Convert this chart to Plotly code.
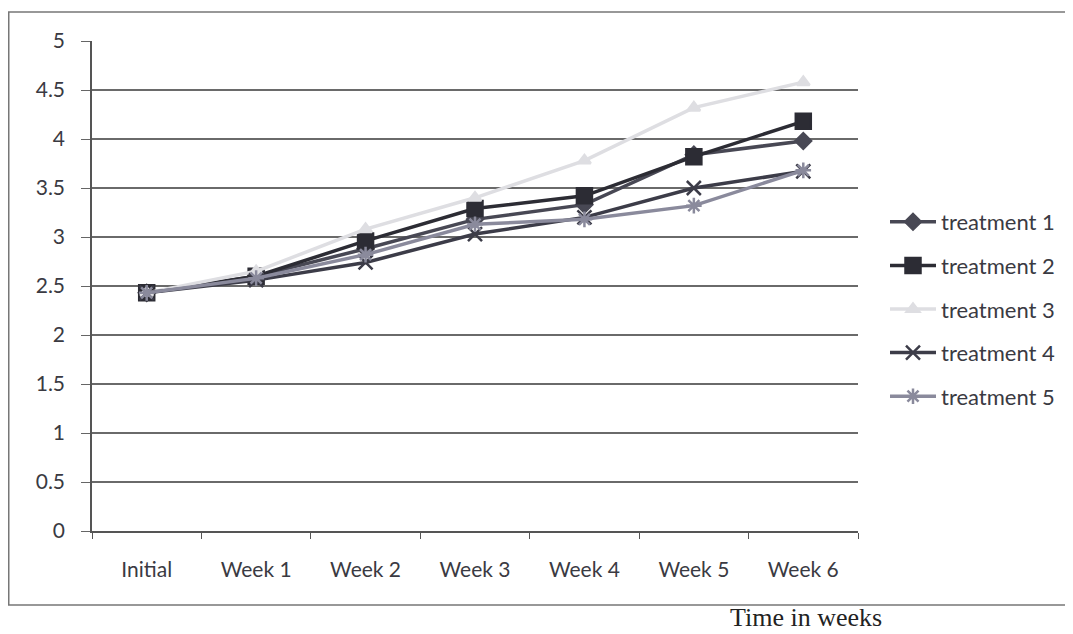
import plotly.graph_objects as go

categories = ["Initial", "Week 1", "Week 2", "Week 3", "Week 4", "Week 5", "Week 6"]
treatment_1 = [2.43, 2.60, 2.88, 3.18, 3.33, 3.84, 3.98]
treatment_2 = [2.43, 2.60, 2.96, 3.29, 3.42, 3.82, 4.18]
treatment_3 = [2.43, 2.65, 3.08, 3.40, 3.78, 4.32, 4.58]
treatment_4 = [2.43, 2.56, 2.74, 3.03, 3.20, 3.50, 3.67]
treatment_5 = [2.43, 2.58, 2.82, 3.13, 3.18, 3.32, 3.68]
series_names = ["treatment 1", "treatment 2", "treatment 3", "treatment 4", "treatment 5"]
y_ticks = [0, 0.5, 1, 1.5, 2, 2.5, 3, 3.5, 4, 4.5, 5]
y_tick_labels = ["0", "0.5", "1", "1.5", "2", "2.5", "3", "3.5", "4", "4.5", "5"]

series = [treatment_1, treatment_2, treatment_3, treatment_4, treatment_5]
styles = [
    dict(color="#484854", symbol="diamond", size=12),
    dict(color="#2c2c34", symbol="square", size=15),
    dict(color="#dedee2", symbol="triangle-up", size=11),
    dict(color="#3c3c48", symbol="x-thin-open", size=14),
    dict(color="#8a8a9c", symbol="asterisk-open", size=13),
]

# The page adds an 8px body margin, so figure coordinates are page minus 8.
W, H = 1065, 626
L, R, T, B = 84, 215, 33, 103
PW, PH = W - L - R, H - T - B

fig = go.Figure()
for i, (name, vals, st) in enumerate(zip(series_names, series, styles)):
    fig.add_trace(go.Scatter(
        x=categories, y=vals, name=name, mode="lines+markers",
        legendgroup=f"g{i}",
        line=dict(color=st["color"], width=3.5),
        marker=dict(symbol=st["symbol"], size=st["size"], color=st["color"],
                    line=dict(color=st["color"], width=2.5)),
    ))

font_family = "Lato, 'Open Sans', sans-serif"
fig.update_layout(
    width=W, height=H,
    margin=dict(l=L, r=R, t=T, b=B, autoexpand=False),
    paper_bgcolor="white", plot_bgcolor="white",
    font=dict(family=font_family, size=21, color="#3a3a42"),
    showlegend=True,
    legend=dict(x=(877 - L) / PW, xanchor="left", y=(523 - 301) / PH, yanchor="middle",
                font=dict(size=22, color="#3a3a42"), traceorder="grouped",
                tracegroupgap=12, itemwidth=46, bgcolor="rgba(0,0,0,0)"),
    xaxis=dict(type="category", range=[-0.5, 6.5], showgrid=False,
               showline=True, linecolor="#555", linewidth=1.5,
               ticks="outside", tickson="boundaries", ticklen=6,
               tickcolor="#555", ticklabelstandoff=19,
               tickfont=dict(size=21, color="#3a3a42")),
    yaxis=dict(range=[0, 5], tickvals=y_ticks, ticktext=y_tick_labels,
               showgrid=True, gridcolor="#6a6a6a", gridwidth=1.8,
               showline=True, linecolor="#555", linewidth=1.5,
               ticks="outside", ticklen=9, tickcolor="#666",
               ticklabelstandoff=12, zeroline=False,
               tickfont=dict(size=21, color="#3a3a42")),
    shapes=[dict(type="rect", xref="paper", yref="paper",
                 x0=(0.75 - L) / PW, x1=(1090 - L) / PW,
                 y0=(523 - 597) / PH, y1=(523 - 4) / PH,
                 line=dict(color="#777", width=1.5), layer="below")],
    annotations=[dict(text="Time in weeks", xref="paper", yref="paper",
                      x=(798 - L) / PW, y=(523 - 626) / PH,
                      showarrow=False, xanchor="center", yanchor="bottom",
                      font=dict(family="Liberation Serif, serif", size=26, color="#222"))],
)

fig.write_html("out.html")
